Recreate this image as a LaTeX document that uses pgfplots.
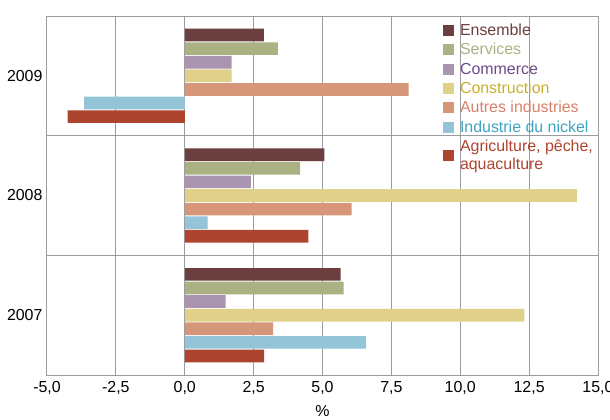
\documentclass[border=0pt]{standalone}
\usepackage{pgfplots}
\pgfplotsset{compat=1.18}
\usepackage{fontspec}
\setmainfont{Liberation Sans}

\definecolor{cEns}{HTML}{6B3F3F}
\definecolor{cSer}{HTML}{AAB183}
\definecolor{cCom}{HTML}{A995B0}
\definecolor{cCon}{HTML}{DFD08A}
\definecolor{cAut}{HTML}{D6967A}
\definecolor{cNic}{HTML}{93C4D8}
\definecolor{cAgr}{HTML}{AD4430}
\definecolor{tCom}{HTML}{6E4A86}
\definecolor{tCon}{HTML}{C9AE2A}
\definecolor{tAut}{HTML}{D88068}
\definecolor{tNic}{HTML}{3FA3C2}
\definecolor{gridc}{RGB}{155,155,160}

\begin{document}
\begin{tikzpicture}
\begin{axis}[
    name=ax,
    scale only axis,
    width=551bp, height=359bp,
    font=\fontsize{16}{15}\selectfont,
    xmin=-5, xmax=15,
    ymin=-0.5, ymax=2.5,
    xtick={-5,-2.5,0,2.5,5,7.5,10,12.5,15},
    ytick={0,1,2},
    yticklabels={2007,2008,2009},
    minor ytick={0.5,1.5},
    xmajorgrids, yminorgrids,
    major tick length=0pt, minor tick length=0pt,
    grid style={gridc, line width=1bp},
    minor grid style={gridc, line width=1bp},
    axis line style={gridc, line width=1bp},
    /pgf/number format/use comma,
    /pgf/number format/fixed,
    /pgf/number format/fixed zerofill,
    /pgf/number format/precision=1,
    /pgf/number format/assume math mode=true,
    xticklabel style={yshift=-3bp},
    yticklabel style={xshift=-1bp},
    xlabel={\%},
    xlabel style={yshift=-4bp},
    xbar, bar width=0.106,
    legend style={draw=none, fill=none, at={(0.712,0.988)}, anchor=north west,
        row sep=3.4bp, nodes={inner sep=1.5bp},
        /tikz/every odd column/.style={column sep=5bp}},
    legend cell align=left,
    legend image code/.code={\fill[#1] (0bp,-5.5bp) rectangle (11bp,5.5bp);},
    every axis plot/.append style={draw=none},
]
\addplot[fill=cEns, bar shift=0.3408] coordinates {(5.66,0) (5.07,1) (2.87,2)};
\addlegendentry{\textcolor{cEns}{Ensemble}}
\addplot[fill=cSer, bar shift=0.2272] coordinates {(5.77,0) (4.19,1) (3.38,2)};
\addlegendentry{\textcolor{cSer}{Services}}
\addplot[fill=cCom, bar shift=0.1136] coordinates {(1.48,0) (2.40,1) (1.70,2)};
\addlegendentry{\textcolor{tCom}{Commerce}}
\addplot[fill=cCon, bar shift=0] coordinates {(12.33,0) (14.23,1) (1.70,2)};
\addlegendentry{\textcolor{tCon}{Construction}}
\addplot[fill=cAut, bar shift=-0.1136] coordinates {(3.21,0) (6.06,1) (8.13,2)};
\addlegendentry{\textcolor{tAut}{Autres industries}}
\addplot[fill=cNic, bar shift=-0.2272] coordinates {(6.58,0) (0.83,1) (-3.65,2)};
\addlegendentry{\textcolor{tNic}{Industrie du nickel}}
\addplot[fill=cAgr, bar shift=-0.3408] coordinates {(2.88,0) (4.49,1) (-4.25,2)};
\addlegendentry{\textcolor{cAgr}{\shortstack[l]{Agriculture, pêche,\\aquaculture}}}
\end{axis}
\pgfresetboundingbox
\path[use as bounding box] ([xshift=-47bp,yshift=-45bp]ax.south west) rectangle ([xshift=12bp,yshift=16bp]ax.north east);
\end{tikzpicture}
\end{document}
